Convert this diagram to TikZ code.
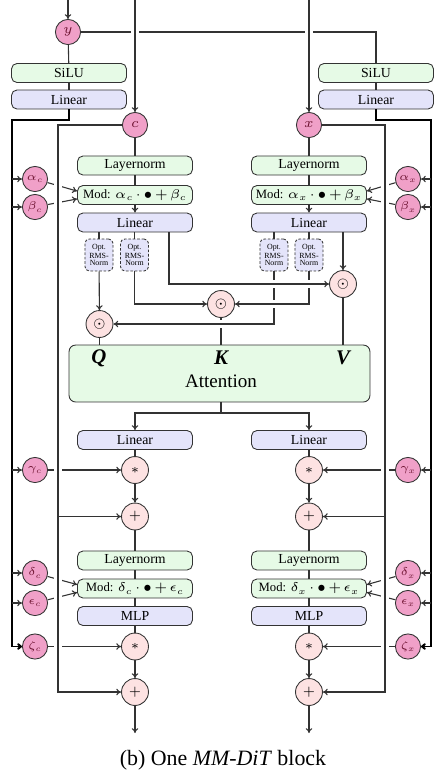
\RequirePackage{fix-cm}
\documentclass[tikz,border=0pt]{standalone}
\usepackage{fontspec}
\setmainfont{Liberation Serif}
\usetikzlibrary{arrows.meta}
\definecolor{boxgreen}{RGB}{230,250,230}
\definecolor{boxblue}{RGB}{228,228,250}
\definecolor{condpink}{RGB}{240,160,200}
\definecolor{condtext}{RGB}{110,20,50}
\definecolor{oppink}{RGB}{253,226,226}
\newcommand{\boxfont}{\fontsize{6.3}{7}\selectfont}
\newcommand{\modfont}{\fontsize{5.8}{6}\selectfont\medmuskip 2mu\relax}
\tikzstyle{greenbox}=[draw=black!80, rounded corners=2.5pt, fill=boxgreen, minimum width=52.5pt, minimum height=8.7pt, inner sep=0pt, font=\boxfont]
\tikzstyle{bluebox}=[greenbox, fill=boxblue]
\tikzstyle{modbox}=[greenbox, font=\modfont]
\tikzstyle{cond}=[draw=black!80, circle, fill=condpink, minimum size=11.5pt, inner sep=0pt, text=condtext, font=\fontsize{5.2}{5.5}\selectfont]
\tikzstyle{op}=[draw=black!80, circle, fill=oppink, minimum size=12.3pt, inner sep=0pt, font=\fontsize{6}{6}\selectfont]
\tikzstyle{rms}=[draw=black!80, dash pattern=on 1.2pt off 0.8pt, rounded corners=2pt, fill=boxblue, minimum width=12.8pt, minimum height=14.6pt, inner sep=0pt, align=center, font=\fontsize{3.6}{3.1}\selectfont]
\tikzstyle{qkv}=[font=\fontsize{9.5}{10}\selectfont\bfseries\itshape]
\tikzstyle{flow}=[draw=black!80, line width=0.5pt]
\tikzstyle{spine}=[draw=black, line width=0.9pt]
\tikzstyle{over}=[preaction={draw=white, -, line width=3.4pt, shorten <=2pt, shorten >=2pt}]

\begin{document}
\begin{tikzpicture}[x=0.4566pt, y=-0.4566pt, >={To[length=2.2pt,width=3pt]}]
    \useasboundingbox (0,0) rectangle (438,775);

    % inputs
    \coordinate (yin) at (68,0);
    \coordinate (cin) at (135,0);
    \coordinate (xin) at (309,0);
    \node[cond,font=\boxfont] (y) at (68,32) {$y$};
    \node[cond,font=\boxfont] (c) at (135,125) {$c$};
    \node[cond,font=\boxfont] (x) at (309,125) {$x$};

    \node[greenbox] (silul) at (69,73) {SiLU};
    \node[bluebox] (linl) at (69,99.5) {Linear};
    \node[greenbox] (silur) at (376,73) {SiLU};
    \node[bluebox] (linr) at (376,99.5) {Linear};

    % context stream
    \node[greenbox] (lnc1) at (135,165.5) {Layernorm};
    \node[modbox] (modc1) at (135,195) {Mod: $\alpha_c\cdot\bullet+\beta_c$};
    \node[bluebox] (linc1) at (135,222.5) {Linear};
    \node[rms] (rmsqc) at (99,255) {Opt.\\RMS-\\Norm};
    \node[rms] (rmskc) at (134.5,255) {Opt.\\RMS-\\Norm};

    % image stream
    \node[greenbox] (lnx1) at (309,165.5) {Layernorm};
    \node[modbox] (modx1) at (309,195) {Mod: $\alpha_x\cdot\bullet+\beta_x$};
    \node[bluebox] (linx1) at (309,222.5) {Linear};
    \node[rms] (rmsqx) at (274,255) {Opt.\\RMS-\\Norm};
    \node[rms] (rmskx) at (309,255) {Opt.\\RMS-\\Norm};

    \node[op] (oq) at (99.5,324) {$\odot$};
    \node[op] (ok) at (221,304) {$\odot$};
    \node[op] (ov) at (343,284) {$\odot$};

    \node[greenbox, minimum width=137.4pt, minimum height=26pt, rounded corners=3pt] (attn) at (219.5,373.5) {};
    \node[qkv] (lq) at (99,358) {Q};
    \node[qkv] (lk) at (221,358) {K};
    \node[qkv] (lv) at (343,358) {V};
    \node[font=\fontsize{8.7}{10}\selectfont] (latt) at (221,381) {Attention};

    \node[bluebox] (linc2) at (135,440) {Linear};
    \node[op] (mulc1) at (135,470) {$*$};
    \node[op] (addc1) at (135,516.5) {$+$};
    \node[greenbox] (lnc2) at (135,560.5) {Layernorm};
    \node[modbox] (modc2) at (135,588.5) {Mod: $\delta_c\cdot\bullet+\epsilon_c$};
    \node[bluebox] (mlpc) at (135,616) {MLP};
    \node[op] (mulc2) at (135,646.5) {$*$};
    \node[op] (addc2) at (135,692) {$+$};
    \coordinate (outc) at (135,733);

    \node[bluebox] (linx2) at (309,440) {Linear};
    \node[op] (mulx1) at (309,470) {$*$};
    \node[op] (addx1) at (309,516.5) {$+$};
    \node[greenbox] (lnx2) at (309,560.5) {Layernorm};
    \node[modbox] (modx2) at (309,588.5) {Mod: $\delta_x\cdot\bullet+\epsilon_x$};
    \node[bluebox] (mlpx) at (309,616) {MLP};
    \node[op] (mulx2) at (309,646.5) {$*$};
    \node[op] (addx2) at (309,692) {$+$};
    \coordinate (outx) at (309,733);

    % modulation parameters
    \node[cond] (alphac) at (35,179) {$\alpha_c$};
    \node[cond] (betac) at (35,207) {$\beta_c$};
    \node[cond] (gammac) at (35,470) {$\gamma_c$};
    \node[cond] (deltac) at (35,573) {$\delta_c$};
    \node[cond] (epsc) at (35,603) {$\epsilon_c$};
    \node[cond] (zetac) at (35,646.5) {$\zeta_c$};
    \node[cond] (alphax) at (408,179) {$\alpha_x$};
    \node[cond] (betax) at (408,207) {$\beta_x$};
    \node[cond] (gammax) at (408,470) {$\gamma_x$};
    \node[cond] (deltax) at (408,573) {$\delta_x$};
    \node[cond] (epsx) at (408,603) {$\epsilon_x$};
    \node[cond] (zetax) at (408,646.5) {$\zeta_x$};

    \coordinate (spl) at (12,120);
    \coordinate (spr) at (431,120);
    \coordinate (resl) at (58,0);
    \coordinate (resr) at (385,0);
    \coordinate (vl) at (169,0);
    \coordinate (split) at (221,413);

    \node[font=\fontsize{10}{12}\selectfont] (caption) at (223,760) {(b) One \textit{MM-DiT} block};

    % conditioning
    \draw[flow,->] (yin) -- (y);
    \draw[flow] (y) -- (silul);
    \draw[flow] (silul) -- (linl);
    \draw[flow] (y.east) -| (silur.north);
    \draw[flow] (silur) -- (linr);
    \draw[flow,over,->] (cin) -- (c);
    \draw[flow,over,->] (xin) -- (x);

    \draw[spine,->] (linl.south) |- (spl) |- (zetac.west);
    \draw[spine,->] (linr.south) |- (spr) |- (zetax.east);
    \foreach \n in {alphac,betac,gammac,deltac,epsc}
        \draw[flow,->] (spl |- \n.west) -- (\n.west);
    \foreach \n in {alphax,betax,gammax,deltax,epsx}
        \draw[flow,->] (spr |- \n.east) -- (\n.east);

    \draw[flow,->] (alphac) -- ([yshift=1.8pt]modc1.west);
    \draw[flow,->] (betac) -- ([yshift=-1.8pt]modc1.west);
    \draw[flow,->] (deltac) -- ([yshift=1.8pt]modc2.west);
    \draw[flow,->] (epsc) -- ([yshift=-1.8pt]modc2.west);
    \draw[flow,->] (gammac) -- (mulc1);
    \draw[flow,->] (zetac) -- (mulc2);
    \draw[flow,->] (alphax) -- ([yshift=1.8pt]modx1.east);
    \draw[flow,->] (betax) -- ([yshift=-1.8pt]modx1.east);
    \draw[flow,->] (deltax) -- ([yshift=1.8pt]modx2.east);
    \draw[flow,->] (epsx) -- ([yshift=-1.8pt]modx2.east);
    \draw[flow,->] (gammax) -- (mulx1);
    \draw[flow,->] (zetax) -- (mulx2);

    % residuals
    \draw[flow,over,->] (c.west) -| (resl |- addc2.west) -- (addc2.west);
    \draw[flow,->] (resl |- addc1.west) -- (addc1.west);
    \draw[flow,over,->] (x.east) -| (resr |- addx2.east) -- (addx2.east);
    \draw[flow,->] (resr |- addx1.east) -- (addx1.east);

    % blocks before attention
    \draw[flow] (c) -- (lnc1);
    \draw[flow] (lnc1) -- (modc1);
    \draw[flow,->] (modc1) -- (linc1);
    \draw[flow] (x) -- (lnx1);
    \draw[flow] (lnx1) -- (modx1);
    \draw[flow,->] (modx1) -- (linx1);

    % joint attention
    \draw[flow] (ok) -- (ok |- attn.north);
    \draw[flow] (oq) -- (oq |- attn.north);
    \draw[flow] (ov) -- (ov |- attn.north);
    \draw[flow] (linc1.south -| rmsqc) -- (rmsqc);
    \draw[flow,->] (rmsqc) -- (oq);
    \draw[flow] (linc1.south -| rmskc) -- (rmskc);
    \draw[flow,->] (rmskc.south) |- (ok.west);
    \draw[flow] (linx1.south -| rmsqx) -- (rmsqx);
    \draw[flow,over,->] (rmsqx.south) |- (oq.east);
    \draw[flow] (linx1.south -| rmskx) -- (rmskx);
    \draw[flow,over,->] (rmskx.south) |- (ok.east);
    \draw[flow,over,->] (linc1.south -| vl) |- (ov.west);
    \draw[flow,->] (linx1.south -| ov) -- (ov);

    \draw[flow] (split |- attn.south) -- (split);
    \draw[flow,->] (split) -| (linc2.north);
    \draw[flow,->] (split) -| (linx2.north);

    % blocks after attention
    \draw[flow] (linc2) -- (mulc1);
    \draw[flow,->] (mulc1) -- (addc1);
    \draw[flow] (addc1) -- (lnc2);
    \draw[flow] (lnc2) -- (modc2);
    \draw[flow] (modc2) -- (mlpc);
    \draw[flow] (mlpc) -- (mulc2);
    \draw[flow,->] (mulc2) -- (addc2);
    \draw[flow,->] (addc2) -- (outc);
    \draw[flow] (linx2) -- (mulx1);
    \draw[flow,->] (mulx1) -- (addx1);
    \draw[flow] (addx1) -- (lnx2);
    \draw[flow] (lnx2) -- (modx2);
    \draw[flow] (modx2) -- (mlpx);
    \draw[flow] (mlpx) -- (mulx2);
    \draw[flow,->] (mulx2) -- (addx2);
    \draw[flow,->] (addx2) -- (outx);

\end{tikzpicture}
\end{document}
